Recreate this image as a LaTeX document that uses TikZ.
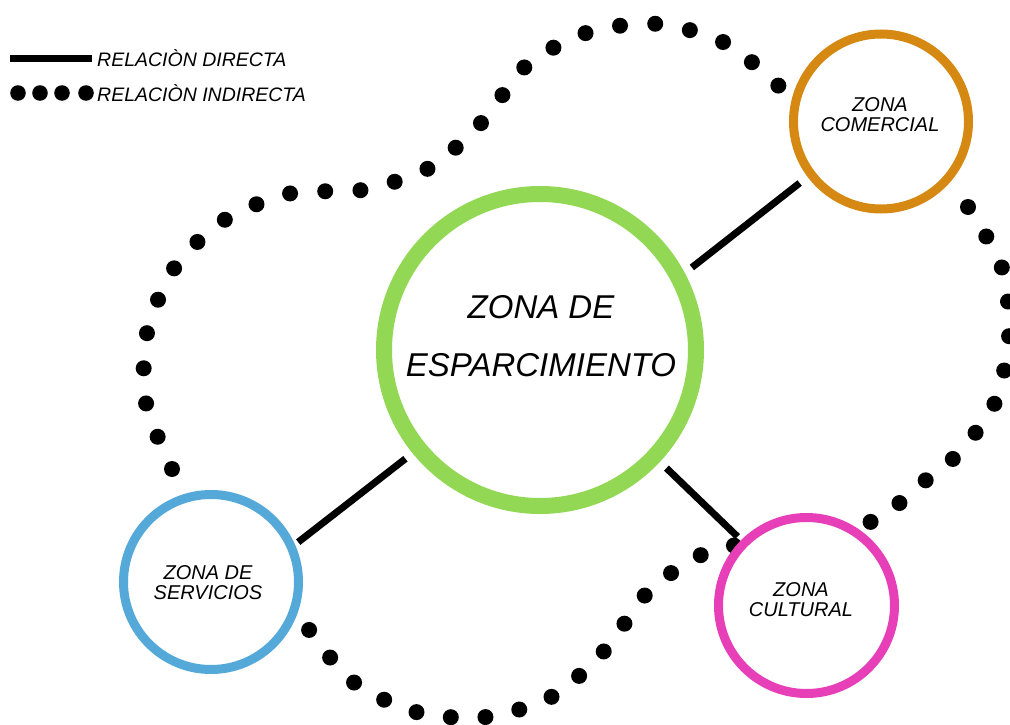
\documentclass[tikz,border=0pt]{standalone}
\usepackage{fontspec}
\setmainfont{Liberation Sans}
\usepackage{xcolor}
\usetikzlibrary{positioning,backgrounds}
\definecolor{verdezona}{RGB}{146,216,84}
\definecolor{naranjazona}{RGB}{214,137,18}
\definecolor{azulzona}{RGB}{85,169,217}
\definecolor{rosazona}{RGB}{230,63,184}

\tikzset{
  zona/.style={circle, fill=white, inner sep=0pt, line width=9pt},
  rotulo/.style={align=center, inner sep=0pt, font=\fontsize{20}{20}\selectfont\itshape},
  leyenda/.style={anchor=west, inner sep=0pt, font=\fontsize{19.5}{20}\selectfont\itshape},
  directa/.style={line width=7pt},
  indirecta/.style={line width=16pt, line cap=round, dash pattern=on 0pt off #1}
}

\begin{document}
\begin{tikzpicture}[x=1pt, y=-1pt]
    \useasboundingbox (0,0) rectangle (1010,725);

    % Legend
    \coordinate (ld1) at (10,58.5);
    \coordinate (ld2) at (92,58.5);
    \draw[directa] (ld1) -- (ld2);
    \node[leyenda] (ldtxt) at (97,58.5) {RELACIÒN DIRECTA};
    \foreach \x in {18,40,62,86}
        \fill (\x,93) circle (7.8pt);
    \node[leyenda] (litxt) at (97,93) {RELACIÒN INDIRECTA};

    % Zones
    \node[zona, draw=verdezona, line width=16pt, minimum size=312pt] (esparcimiento) at (540,350) {};
    \node[zona, draw=naranjazona, minimum size=175pt] (comercial) at (881,121.5) {};
    \node[zona, draw=azulzona, minimum size=175pt] (servicios) at (211,582) {};
    \node[zona, draw=rosazona, minimum size=176pt] (cultural) at (806.5,605.5) {};

    % Labels
    \node[rotulo, font=\fontsize{33}{58}\selectfont\itshape] (esparcimiento-txt) at (541,336) {ZONA DE\\ESPARCIMIENTO};
    \node[rotulo] (comercial-txt) at (880,115) {ZONA\\COMERCIAL};
    \node[rotulo] (servicios-txt) at (208,582.5) {ZONA DE\\SERVICIOS};
    \node[rotulo] (cultural-txt) at (801,600) {ZONA\\CULTURAL};

    % Direct relations
    \draw[directa, shorten <=9pt, shorten >=10pt] (esparcimiento.28.5) -- (comercial.217);
    \draw[directa, shorten <=9pt, shorten >=4pt] (esparcimiento.219.6) -- (servicios.24.7);
    \draw[directa, shorten <=9pt, shorten >=5pt] (esparcimiento.317) -- (cultural.135.4);

    % Indirect relations (behind the zones)
    \begin{scope}[on background layer]
        \draw[indirecta=35.3pt] plot[smooth] coordinates {(172,469) (146,403) (147,333) (175,267)
            (226,219) (292,193) (362,190) (429,168) (482,122) (527,65) (589,32) (659,24) (727,44) (782,89)};
        \draw[indirecta=34.7pt] plot[smooth] coordinates {(968,207) (1002,268) (1009,338) (993,407)
            (950,462) (922,483) (873,521) (790,537) (708,552) (649,591) (606,649) (553,696) (486,717)
            (416,712) (352,681) (307,627)};
    \end{scope}
\end{tikzpicture}
\end{document}
